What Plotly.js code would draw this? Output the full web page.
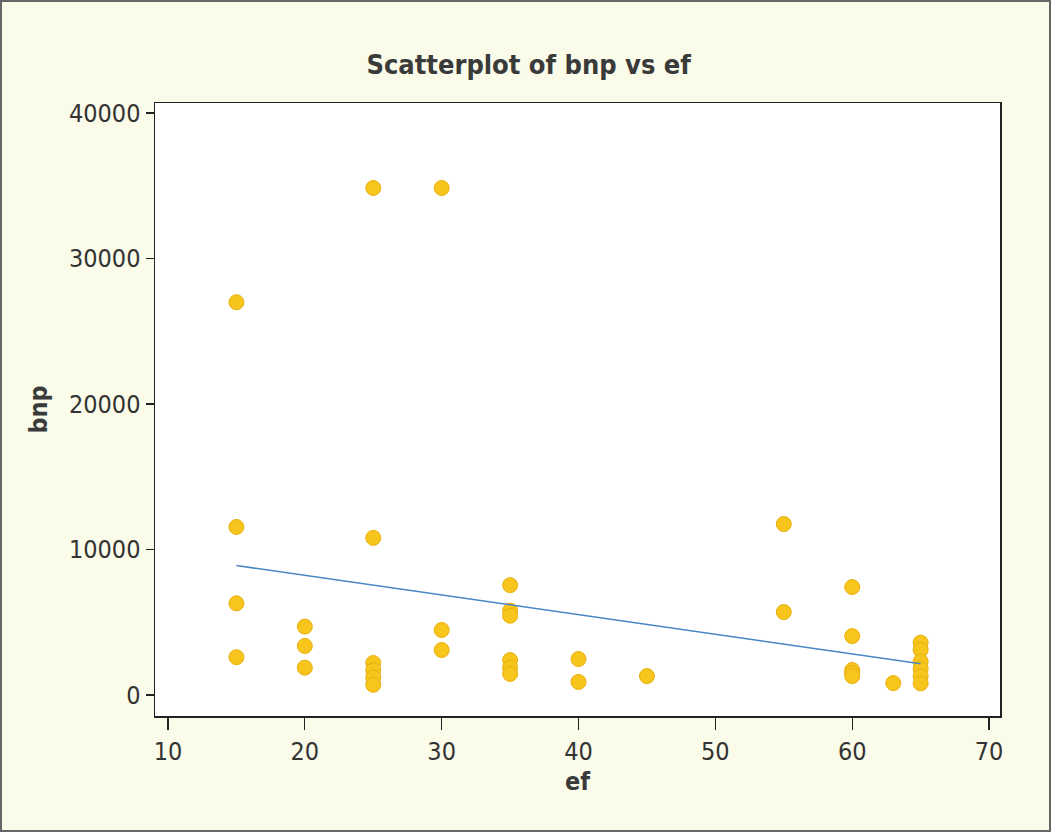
<!DOCTYPE html>
<html>
<head>
<meta charset="utf-8">
<script src="https://cdn.plot.ly/plotly-3.0.1.min.js"></script>
<style>
html,body{margin:0;padding:0;background:#fbfbe9;}
#frame{width:1047px;height:828px;border:2px solid #666;background:#fbfbe9;}
#chart{width:1047px;height:828px;}
</style>
</head>
<body>
<div id="frame"><div id="chart"></div></div>
<script>
// ef values
const ef = [15,15,15,15, 20,20,20, 25,25,25,25,25,25, 30,30,30,
            35,35,35,35,35,35, 40,40, 45, 55,55, 60,60,60,60,60, 63,
            65,65,65,65,65,65];
// bnp values
const bnp = [27000,11550,6300,2600, 4700,3370,1880, 34850,10800,2200,1700,1200,700,
             34850,4470,3090,
             7550,5800,5450,2400,1900,1450, 2470,900, 1300, 11750,5700,
             7420,4050,1720,1500,1300, 820,
             3600,3100,2300,1800,1300,800];
// fitted line endpoints
const fitX = [15, 65];
const fitY = [8900, 2150];

const xTicks = [10,20,30,40,50,60,70];
const yTicks = [0,10000,20000,30000,40000];

const font = "'DejaVu Sans Condensed', 'Liberation Sans Narrow', sans-serif";

const traces = [
  {x: ef, y: bnp, type: 'scatter', mode: 'markers',
   marker: {color: '#f7c51c', size: 15, line: {color: '#e8b010', width: 1}},
   hoverinfo: 'x+y'},
  {x: fitX, y: fitY, type: 'scatter', mode: 'lines',
   line: {color: '#4a86c5', width: 1.6}}
];

const layout = {
  width: 1047, height: 828,
  paper_bgcolor: '#fbfbe9', plot_bgcolor: '#ffffff',
  showlegend: false,
  margin: {l: 153, r: 49, t: 101, b: 114},
  title: {text: '<b>Scatterplot of bnp vs ef</b>', x: 0.503, xref: 'container', xanchor: 'center',
          y: 0.925, yref: 'container', yanchor: 'middle',
          font: {family: font, size: 27, color: '#3a3a3a'}},
  xaxis: {range: [9.05, 70.8], tickvals: xTicks, ticktext: xTicks.map(String),
          ticks: 'outside', ticklen: 12, tickwidth: 1.2, tickcolor: '#222',
          showline: true, linecolor: '#222', linewidth: 1.5, mirror: true,
          showgrid: false, zeroline: false,
          tickfont: {family: font, size: 25, color: '#333'},
          title: {text: '<b>ef</b>', font: {family: font, size: 25, color: '#3a3a3a'}, standoff: 8}},
  yaxis: {range: [-1443, 40690], tickvals: yTicks, ticktext: yTicks.map(String),
          ticks: 'outside', ticklen: 8, tickwidth: 1.2, tickcolor: '#222',
          showline: true, linecolor: '#222', linewidth: 1.5, mirror: true,
          showgrid: false, zeroline: false,
          tickfont: {family: font, size: 25, color: '#333'},
          title: {text: '<b>bnp</b>', font: {family: font, size: 25, color: '#3a3a3a'}, standoff: 14}}
};

Plotly.newPlot('chart', traces, layout, {displayModeBar: false, staticPlot: true});
</script>
</body>
</html>
